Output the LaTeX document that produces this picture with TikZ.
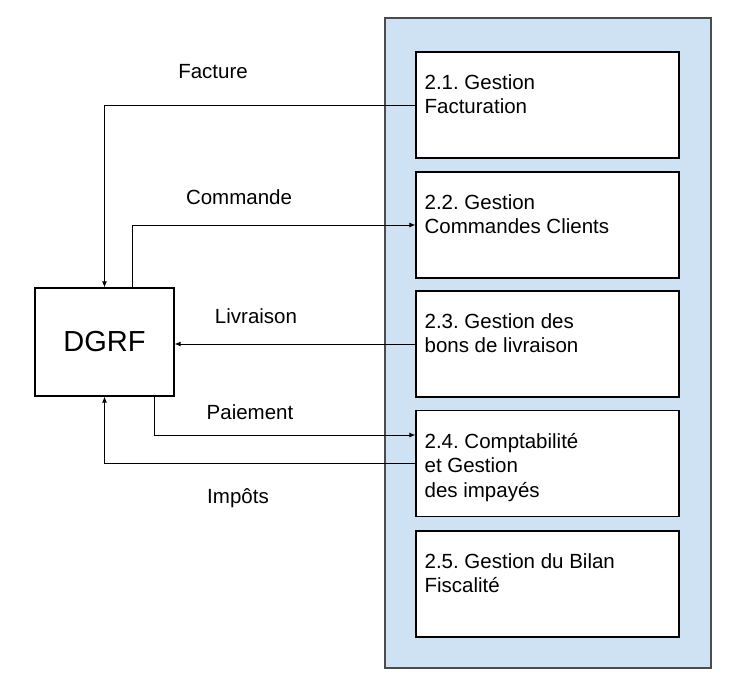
\documentclass[tikz,border=0pt]{standalone}
\usepackage{fontspec}
\setmainfont{Liberation Sans}
\usetikzlibrary{arrows.meta}
\definecolor{paneblue}{HTML}{CFE2F3}
\frenchspacing

\begin{document}
\begin{tikzpicture}[x=1pt, y=-1pt,
	proc box/.style={draw, line width=1.2pt, fill=white, minimum width=263pt, minimum height=106pt, inner sep=0pt},
	box text/.style={anchor=north west, align=left, inner sep=0pt, font=\fontsize{20.5}{24.5}\selectfont},
	flow label/.style={anchor=base, inner sep=0pt, font=\fontsize{20.5}{24}\selectfont},
	flow/.style={line width=0.9pt, -{Latex[length=6pt,width=5pt]}}]
	
	\useasboundingbox (0,0) rectangle (739,685);
	
	% process pane
	\node[draw=black!70, line width=1.2pt, fill=paneblue, minimum width=326pt, minimum height=650pt] (pane) at (548,343) {};
	
	\node[proc box] (1) at (547.5,105) {};
	\node[proc box] (2) at (547.5,225) {};
	\node[proc box] (3) at (547.5,344) {};
	\node[proc box] (4) at (547.5,463.5) {};
	\node[proc box] (5) at (547.5,584) {};
	
	\node[box text] (t1) at ([xshift=9pt,yshift=-23pt]1.north west) {2.1. Gestion\\Facturation};
	\node[box text] (t2) at ([xshift=9pt,yshift=-23pt]2.north west) {2.2. Gestion\\Commandes Clients};
	\node[box text] (t3) at ([xshift=9pt,yshift=-23pt]3.north west) {2.3. Gestion des\\bons de livraison};
	\node[box text] (t4) at ([xshift=9pt,yshift=-23pt]4.north west) {2.4. Comptabilité\\et Gestion\\des impayés};
	\node[box text] (t5) at ([xshift=9pt,yshift=-23pt]5.north west) {2.5. Gestion du Bilan\\Fiscalité};
	
	% external entity
	\node[draw, line width=1.2pt, minimum width=139pt, minimum height=108pt, font=\fontsize{29}{34}\selectfont] (dgrf) at (104.5,342) {DGRF};
	
	% flows
	\draw[flow] (1.west) -| (dgrf.north);
	\draw[flow] ([xshift=27.5pt]dgrf.north) |- (2.west);
	\draw[flow] (3.west) -- (3.west -| dgrf.east);
	\draw[flow] ([xshift=49.5pt]dgrf.south) |- ([yshift=28.5pt]4.west);
	\draw[flow] (4.west) -| (dgrf.south);
	
	\node[flow label] (l1) at (213,78) {Facture};
	\node[flow label] (l2) at (239,204) {Commande};
	\node[flow label] (l3) at (256,323) {Livraison};
	\node[flow label] (l4) at (250,419) {Paiement};
	\node[flow label] (l5) at (238,503) {Impôts};
\end{tikzpicture}
\end{document}
